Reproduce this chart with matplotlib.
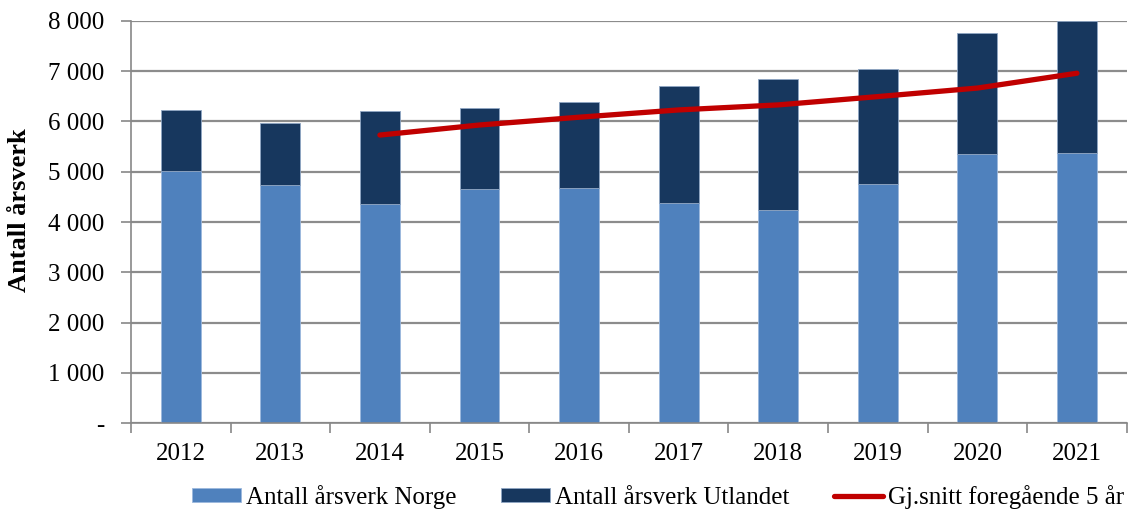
import matplotlib.pyplot as plt
import numpy as np
from matplotlib.ticker import FuncFormatter

years = ["2012", "2013", "2014", "2015", "2016", "2017", "2018", "2019", "2020", "2021"]
norge = [5010, 4745, 4365, 4650, 4675, 4380, 4245, 4750, 5350, 5370]
utlandet = [1220, 1220, 1840, 1625, 1720, 2325, 2600, 2290, 2405, 2630]
snitt5 = [np.nan, np.nan, 5730, 5930, 6085, 6230, 6330, 6495, 6665, 6960]

plt.rcParams['font.family'] = ['Liberation Serif', 'DejaVu Serif']

fig = plt.figure(figsize=(11.29, 5.11), dpi=100)
ax = fig.add_axes([0.116, 0.172, 0.882, 0.787])

x = np.arange(len(years))
b1 = ax.bar(x, norge, width=0.4, color='#4F81BD', edgecolor='#9CB8DD', linewidth=0.6,
            label='Antall årsverk Norge', zorder=2)
b2 = ax.bar(x, utlandet, width=0.4, bottom=norge, color='#17375E', edgecolor='#8FA6C4',
            linewidth=0.6, label='Antall årsverk Utlandet', zorder=2)
l1, = ax.plot(x, snitt5, color='#C00000', linewidth=3.8, solid_capstyle='round',
              label='Gj.snitt foregående 5 år', zorder=3)

ax.set_xlim(-0.5, len(years) - 0.5)
ax.set_ylim(0, 8000)
ax.set_yticks(np.arange(0, 8001, 1000))
ax.yaxis.set_major_formatter(FuncFormatter(
    lambda v, p: '-' if v == 0 else '{:,.0f}'.format(v).replace(',', ' ')))
ax.set_xticks(x)
ax.set_xticklabels(years)
ax.set_xticks(np.arange(-0.5, len(years)), minor=True)
ax.tick_params(axis='x', which='major', length=0, pad=14, labelsize=18)
ax.tick_params(axis='x', which='minor', length=7, color='#888888', width=1.2)
ax.tick_params(axis='y', length=7, color='#888888', width=1.2, pad=12, labelsize=18)

ax.yaxis.grid(True, color='#8C8C8C', linewidth=1.6, zorder=0)
ax.set_axisbelow(True)
for s in ['top', 'right']:
    ax.spines[s].set_visible(False)
for s in ['left', 'bottom']:
    ax.spines[s].set_color('#888888')
    ax.spines[s].set_linewidth(1.2)

ax.set_ylabel('Antall årsverk', fontsize=19, fontweight='bold', labelpad=12)
ax.yaxis.set_label_coords(-0.1, 0.53)

fig.legend(handles=[b1, b2, l1], loc='lower center', bbox_to_anchor=(0.583, -0.04),
           ncol=3, frameon=False, fontsize=18, handlelength=1.95, handleheight=0.45,
           columnspacing=1.8, handletextpad=0.2)

fig.savefig('out.png', dpi=100)
